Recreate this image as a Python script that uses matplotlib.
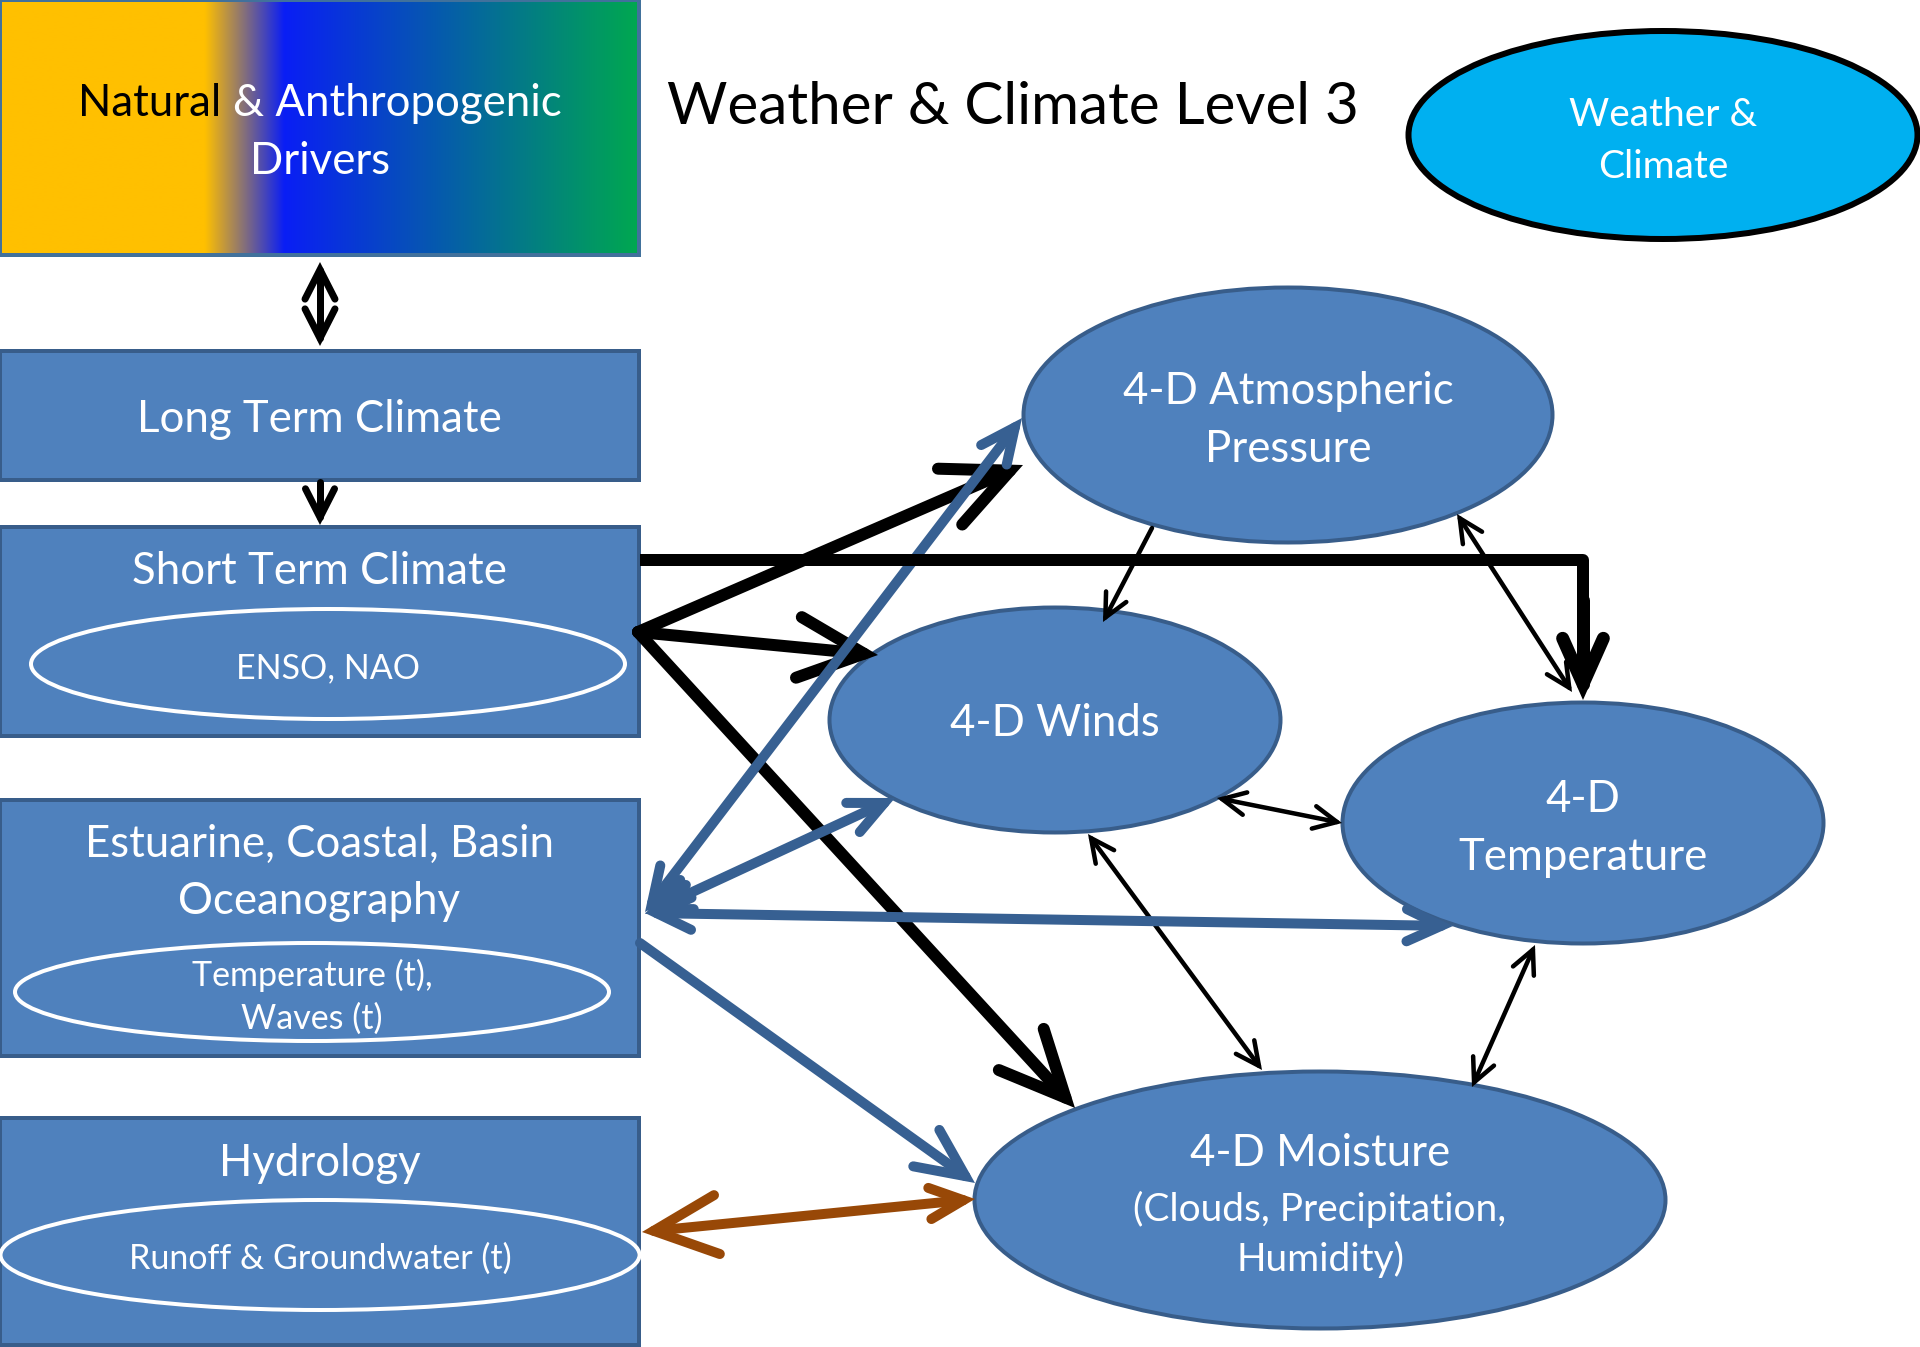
import numpy as np
import matplotlib.pyplot as plt
from matplotlib.patches import Rectangle, Ellipse
from matplotlib.lines import Line2D

W, H = 1920, 1347

FILL = '#4F81BD'
EDGE = '#385D8A'
ARROW_BLUE = '#376092'
BROWN = '#984807'
CYAN = '#00B0F0'

plt.rcParams['font.family'] = ['Lato', 'DejaVu Sans']

# texts
title = 'Weather & Climate Level 3'
key_lines = ['Weather &', 'Climate']
driver_lines = [('Natural', ' & Anthropogenic'), 'Drivers']
box_lines = [['Long Term Climate'],
             ['Short Term Climate'],
             ['Estuarine, Coastal, Basin', 'Oceanography'],
             ['Hydrology']]
sub_lines = [[], ['ENSO, NAO'], ['Temperature (t),', 'Waves (t)'], ['Runoff & Groundwater (t)']]
node_lines = [['4-D Atmospheric', 'Pressure'],
              ['4-D Winds'],
              ['4-D', 'Temperature'],
              ['4-D Moisture', '(Clouds, Precipitation,', 'Humidity)']]

# gradient stops of the drivers box (fraction, rgb)
grad_pos = [0.0, 0.32, 0.445, 1.0]
grad_rgb = [(255, 192, 0), (255, 192, 0), (10, 30, 245), (0, 168, 80)]

# ---- layout (pixel coords, y down) ----
drivers_box = (0, 0, 639, 255)
boxes = [(0, 351, 639, 480), (0, 527, 639, 736), (0, 800, 639, 1056), (0, 1118, 639, 1345)]
box_text_y = [[416], [567], [840, 898], [1160]]
subs = [None, (328, 664, 594, 110), (312, 992, 594, 98), (320, 1255, 639, 110)]
sub_text_y = [[], [664], [971, 1015], [1255]]
nodes = [(1288, 415, 529, 255), (1055, 720, 451, 225), (1583, 823, 481, 241), (1320, 1200, 691, 257)]
node_text_y = [[388, 446], [720], [796, 853], [1150, 1205, 1255]]
node_text_x = [1288, 1055, 1583, 1320]

BIG = 31.5
SMALL = 24.5
MOIST = 28
DY = 4  # small downward nudge of all text

fig = plt.figure(figsize=(W / 100, H / 100), dpi=100)
ax = fig.add_axes([0, 0, 1, 1])
ax.set_xlim(0, W)
ax.set_ylim(H, 0)
ax.axis('off')

PX = 72 / 100  # points per pixel


def arm_head(tip, frm, length, color, lw, half=25, z=3):
    tip = np.array(tip, float)
    d = tip - np.array(frm, float)
    d /= np.hypot(*d)
    a = np.radians(half)
    # move vertex back so the mitred point lands on the tip
    v = tip - d * (lw / 2) / np.sin(a)
    pts = []
    for s in (1, -1):
        c, sn = np.cos(s * a), np.sin(s * a)
        back = -d
        r = np.array([c * back[0] - sn * back[1], sn * back[0] + c * back[1]])
        pts.append(v + r * length)
    xs = [pts[0][0], v[0], pts[1][0]]
    ys = [pts[0][1], v[1], pts[1][1]]
    ax.add_line(Line2D(xs, ys, color=color, lw=lw * PX, solid_capstyle='round',
                       solid_joinstyle='miter', zorder=z))
    return v


def arrow(p0, p1, color, lw, h1=0, h0=0, z=3, half=25):
    a, b = np.array(p0, float), np.array(p1, float)
    if h1:
        b = arm_head(p1, p0, h1, color, lw, half, z)
    if h0:
        a = arm_head(p0, p1, h0, color, lw, half, z)
    ax.add_line(Line2D([a[0], b[0]], [a[1], b[1]], color=color, lw=lw * PX,
                       solid_capstyle='round', zorder=z))


# drivers box with gradient
x0, y0, x1, y1 = drivers_box
xs = np.linspace(0, 1, 640)
grad = np.stack([np.interp(xs, grad_pos, [c[i] for c in grad_rgb]) for i in range(3)], axis=-1) / 255
ax.imshow(grad[None, :, :], extent=(x0, x1, y1, y0), aspect='auto', zorder=1, interpolation='bilinear')
ax.add_patch(Rectangle((x0, y0), x1 - x0, y1 - y0, fill=False, ec='#41719C', lw=4 * PX, zorder=2))

# boxes
for (bx0, by0, bx1, by1), lines, ty in zip(boxes, box_lines, box_text_y):
    ax.add_patch(Rectangle((bx0, by0), bx1 - bx0, by1 - by0, fc=FILL, ec=EDGE, lw=4 * PX, zorder=1))
    for s, y in zip(lines, ty):
        ax.text((bx0 + bx1) / 2, y + DY, s, color='white', fontsize=BIG, ha='center', va='center', zorder=6)

for e, lines, ty in zip(subs, sub_lines, sub_text_y):
    if e is None:
        continue
    ax.add_patch(Ellipse((e[0], e[1]), e[2], e[3], fill=False, ec='white', lw=4 * PX, zorder=2))
    for s, y in zip(lines, ty):
        ax.text(e[0], y + DY, s, color='white', fontsize=SMALL, ha='center', va='center', zorder=6)

# nodes
for i, ((cx, cy, w, h), lines, ty) in enumerate(zip(nodes, node_lines, node_text_y)):
    ax.add_patch(Ellipse((cx, cy), w, h, fc=FILL, ec=EDGE, lw=4 * PX, zorder=1))
    for j, (s, y) in enumerate(zip(lines, ty)):
        fs = MOIST if (i == 3 and j > 0) else BIG
        ax.text(node_text_x[i], y + DY, s, color='white', fontsize=fs, ha='center', va='center', zorder=6)

# key ellipse + title
ax.add_patch(Ellipse((1663, 135), 509, 208, fc=CYAN, ec='black', lw=6 * PX, zorder=1))
for s, y in zip(key_lines, [111, 163]):
    ax.text(1663, y + DY, s, color='white', fontsize=28, ha='center', va='center', zorder=6)
ax.text(667, 104 + DY, title, color='black', fontsize=42, ha='left', va='center', zorder=6)

# drivers text: first word black, rest white (measure the full line, then split it)
fig.canvas.draw()
rend = fig.canvas.get_renderer()
full = driver_lines[0][0] + driver_lines[0][1]
t = ax.text(320, 100 + DY, full, fontsize=BIG, ha='center', va='center')
bb = t.get_window_extent(renderer=rend)
t.remove()
inv = ax.transData.inverted()
left = inv.transform((bb.x0, 0))[0]
right = inv.transform((bb.x1, 0))[0]
ax.text(left, 100 + DY, driver_lines[0][0], color='black', fontsize=BIG, ha='left', va='center', zorder=7)
ax.text(right, 100 + DY, driver_lines[0][1].strip(), color='white', fontsize=BIG, ha='right', va='center', zorder=7)
ax.text(320, 158 + DY, driver_lines[1], color='white', fontsize=BIG, ha='center', va='center', zorder=6)

# ---- arrows ----
# left column
arrow((320, 262), (320, 346), 'black', 7, h1=33, h0=33, z=4, half=27)
arrow((320, 482), (320, 525), 'black', 7, h1=32, z=4, half=27)

# thick black from short term climate
origin = (638, 632)
arrow(origin, (1023, 465), 'black', 12, h1=72, z=3)
arrow(origin, (878, 655), 'black', 12, h1=72, z=3)
arrow(origin, (1075, 1108), 'black', 12, h1=72, z=3)
# elbow
ax.add_line(Line2D([640, 1583, 1583], [560, 560, 640], color='black', lw=12 * PX,
                   solid_joinstyle='round', solid_capstyle='butt', zorder=5))
arrow((1583, 600), (1583, 700), 'black', 13, h1=50, z=5, half=24)

# thin black between nodes
arrow((1152, 528), (1103, 622), 'black', 4.5, h1=26, z=2, half=26)
arrow((1457, 514), (1572, 692), 'black', 4.5, h1=26, h0=26, z=2, half=26)
arrow((1217, 798), (1342, 823), 'black', 4.5, h1=26, h0=26, z=2, half=26)
arrow((1088, 834), (1262, 1070), 'black', 4.5, h1=26, h0=26, z=2, half=26)
arrow((1535, 945), (1472, 1087), 'black', 4.5, h1=26, h0=26, z=2, half=26)

# blue arrows from oceanography
arrow((645, 912), (1022, 418), ARROW_BLUE, 10, h1=38, h0=38, z=3.5)
arrow((645, 914), (895, 798), ARROW_BLUE, 10, h1=38, h0=38, z=3.5)
arrow((645, 913), (1453, 926), ARROW_BLUE, 10, h1=38, h0=38, z=3.5)
arrow((640, 943), (975, 1183), ARROW_BLUE, 10, h1=53, z=3.5)

# brown hydrology <-> moisture
arrow((642, 1232), (975, 1199), BROWN, 10, h1=37, h0=70, z=3.5)

fig.savefig('out.png', dpi=100)
